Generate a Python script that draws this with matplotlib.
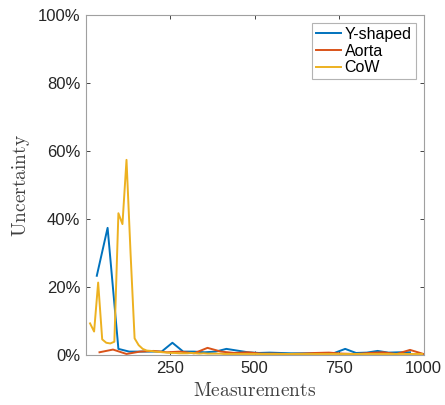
import numpy as np
import matplotlib
matplotlib.use("Agg")
import matplotlib.pyplot as plt
from matplotlib.ticker import FuncFormatter

# ---- data ----
x_y = [32, 64, 96, 128, 160, 192, 224, 256, 288, 320, 352, 384, 416, 448, 480,
       512, 544, 576, 608, 640, 672, 704, 736, 768, 800, 832, 864, 896, 928, 960]
y_y = [23.3, 37.4, 1.8, 1.0, 1.0, 1.0, 1.0, 3.6, 1.0, 1.0, 0.8, 1.0, 1.8, 1.3, 0.8,
       0.6, 0.7, 0.6, 0.5, 0.5, 0.5, 0.6, 0.6, 1.8, 0.6, 0.7, 1.2, 0.7, 0.8, 0.8]

x_a = [40, 80, 120, 160, 200, 240, 280, 320, 360, 400, 440, 480, 520, 560, 600,
       640, 680, 720, 760, 800, 840, 880, 920, 960, 1000]
y_a = [0.8, 1.6, 0.3, 1.0, 1.2, 0.8, 1.0, 0.5, 2.1, 1.0, 0.6, 0.8, 0.4, 0.4, 0.3,
       0.4, 0.6, 0.7, 0.4, 0.3, 0.6, 0.8, 0.3, 1.5, 0.3]

x_c = [12, 24, 36, 48, 60, 72, 84, 96, 108, 120, 132, 144, 156, 168, 180,
       192, 204, 216, 228, 240, 252, 264, 276, 288, 300, 312, 324, 336, 348, 360,
       372, 384, 396, 408, 420, 432, 444, 456, 468, 480, 492, 504, 516, 528, 540,
       552, 564, 576, 588, 600, 612, 624, 636, 648, 660, 672, 684, 696, 708, 720,
       732, 744, 756, 768, 780, 792, 804, 816, 828, 840, 852, 864, 876, 888, 900,
       912, 924, 936, 948, 960, 972, 984, 996]
y_c = [9.3, 6.9, 21.3, 4.6, 3.6, 3.4, 3.9, 41.7, 38.5, 57.4, 30.0, 4.9, 2.9, 1.8, 1.3,
       1.2, 1.0, 0.9, 0.8, 0.7, 0.6, 0.6, 0.5, 0.5, 0.5, 0.6, 0.5, 0.4, 0.5, 0.4,
       0.4, 0.4, 0.4, 0.3, 0.3, 0.3, 0.3, 0.3, 0.3, 0.3, 0.3, 0.3, 0.3, 0.3, 0.3,
       0.3, 0.3, 0.3, 0.3, 0.3, 0.3, 0.3, 0.3, 0.3, 0.3, 0.3, 0.3, 0.3, 0.3, 0.3,
       0.3, 0.3, 0.3, 0.3, 0.3, 0.3, 0.3, 0.3, 0.3, 0.3, 0.3, 0.3, 0.3, 0.3, 0.3,
       0.3, 0.3, 0.3, 0.3, 0.3, 0.3, 0.3, 0.3]

labels = ["Y-shaped", "Aorta", "CoW"]
colors = ["#0072BD", "#D95319", "#EDB120"]
xticks = [250, 500, 750, 1000]
yticks = [0, 20, 40, 60, 80, 100]

plt.rcParams['font.family'] = ['Liberation Sans', 'DejaVu Sans']
plt.rcParams['mathtext.fontset'] = 'cm'

fig = plt.figure(figsize=(4.45, 4.05), dpi=100)
ax = fig.add_axes([86/445, 50/405, 337.5/445, 340/405])

for xs, ys, lab, col in zip([x_y, x_a, x_c], [y_y, y_a, y_c], labels, colors):
    ax.plot(xs, ys, color=col, lw=1.4, label=lab)

ax.set_xlim(0, 1000)
ax.set_ylim(0, 100)
ax.set_xticks(xticks)
ax.set_yticks(yticks)
ax.yaxis.set_major_formatter(FuncFormatter(lambda v, p: f"{v:.0f}%"))
ax.tick_params(direction='in', length=3, width=0.6, color='#262626',
               labelsize=12, labelcolor='#262626', top=True, right=True, pad=4)
for s in ax.spines.values():
    s.set_color('#a0a0a0')
    s.set_linewidth(0.8)

ax.set_xlabel(r"$\mathrm{Measurements}$", fontsize=14, color='#404040', labelpad=5)
ax.set_ylabel(r"$\mathrm{Uncertainty}$", fontsize=14, color='#404040', labelpad=4)

leg = ax.legend(loc='upper right', fontsize=11.5, frameon=True, fancybox=False,
                borderpad=0.25, labelspacing=0.1, handlelength=1.6, handletextpad=0.2,
                borderaxespad=0.5)
leg.get_frame().set_edgecolor('#a0a0a0')
leg.get_frame().set_linewidth(0.8)

fig.savefig("out.png", dpi=100)
